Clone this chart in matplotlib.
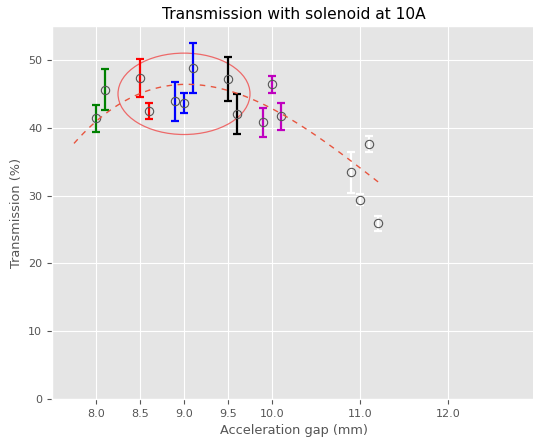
import numpy as np
import matplotlib
matplotlib.use("Agg")
import matplotlib.pyplot as plt
from matplotlib.patches import Ellipse

# -------------------------------------
# Data
# -------------------------------------
gap = [8.0, 8.1, 8.5, 8.6, 8.9, 9.0, 9.1, 9.5, 9.6, 9.9, 10.0, 10.1, 10.9, 11.0, 11.1, 11.2]
transmission = [41.4, 45.6, 47.35, 42.45, 43.9, 43.6, 48.8, 47.2, 42.0, 40.8, 46.4, 41.7, 33.4, 29.4, 37.6, 25.9]
err = [2.0, 3.0, 2.75, 1.2, 2.85, 1.5, 3.7, 3.3, 2.9, 2.15, 1.25, 2.0, 3.0, 0.8, 1.2, 1.1]
colours = ["g", "g", "r", "r", "b", "b", "b", "k", "k", "m", "m", "m", "w", "w", "w", "w"]

# trend curve
trend_x = [7.75, 8.11, 8.38, 8.64, 8.95, 9.21, 9.44, 9.76, 10.03, 10.29, 10.56, 10.78, 11.01, 11.24]
trend_y = [38.2, 41.5, 43.7, 45.7, 46.9, 46.7, 46.0, 44.2, 42.25, 40.3, 38.1, 36.4, 34.4, 31.5]

xticks = [8.0, 8.5, 9.0, 9.5, 10.0, 11.0, 12.0]

# -------------------------------------
# Plot
# -------------------------------------
plt.style.use("ggplot")
fig = plt.figure(figsize=(5.33, 4.41), dpi=100)
ax = fig.add_axes([52 / 533, 42 / 441, 484 / 533, 373 / 441])

for x, y, e, c in zip(gap, transmission, err, colours):
    ax.errorbar(x, y, yerr=e, fmt="none", ecolor=c, elinewidth=1.6, capsize=2.8, capthick=1.6)
ax.plot(gap, transmission, "o", mfc="none", mec="#555555", ms=6, mew=0.8)

# smooth the sampled trend with a cubic
coef = np.polyfit(trend_x, trend_y, 3)
xs = np.linspace(trend_x[0], trend_x[-1], 200)
ax.plot(xs, np.polyval(coef, xs), color="#E8553F", lw=1, dashes=(4, 4))

ax.add_patch(Ellipse((9.0, 45.0), 1.5, 12.0, fill=False, ec="#F04040", lw=0.9, alpha=0.75))

ax.set_xlim(7.5, 13)
ax.set_ylim(0, 55)
ax.set_xticks(xticks)
ax.set_xticklabels([f"{t:.1f}" for t in xticks])
ax.tick_params(labelsize=8)
ax.set_xlabel("Acceleration gap (mm)", fontsize=9.3)
ax.set_ylabel("Transmission (%)", fontsize=9.3)
ax.set_title("Transmission with solenoid at 10A", fontsize=11.2, pad=5)

fig.savefig("out.png", dpi=100)
